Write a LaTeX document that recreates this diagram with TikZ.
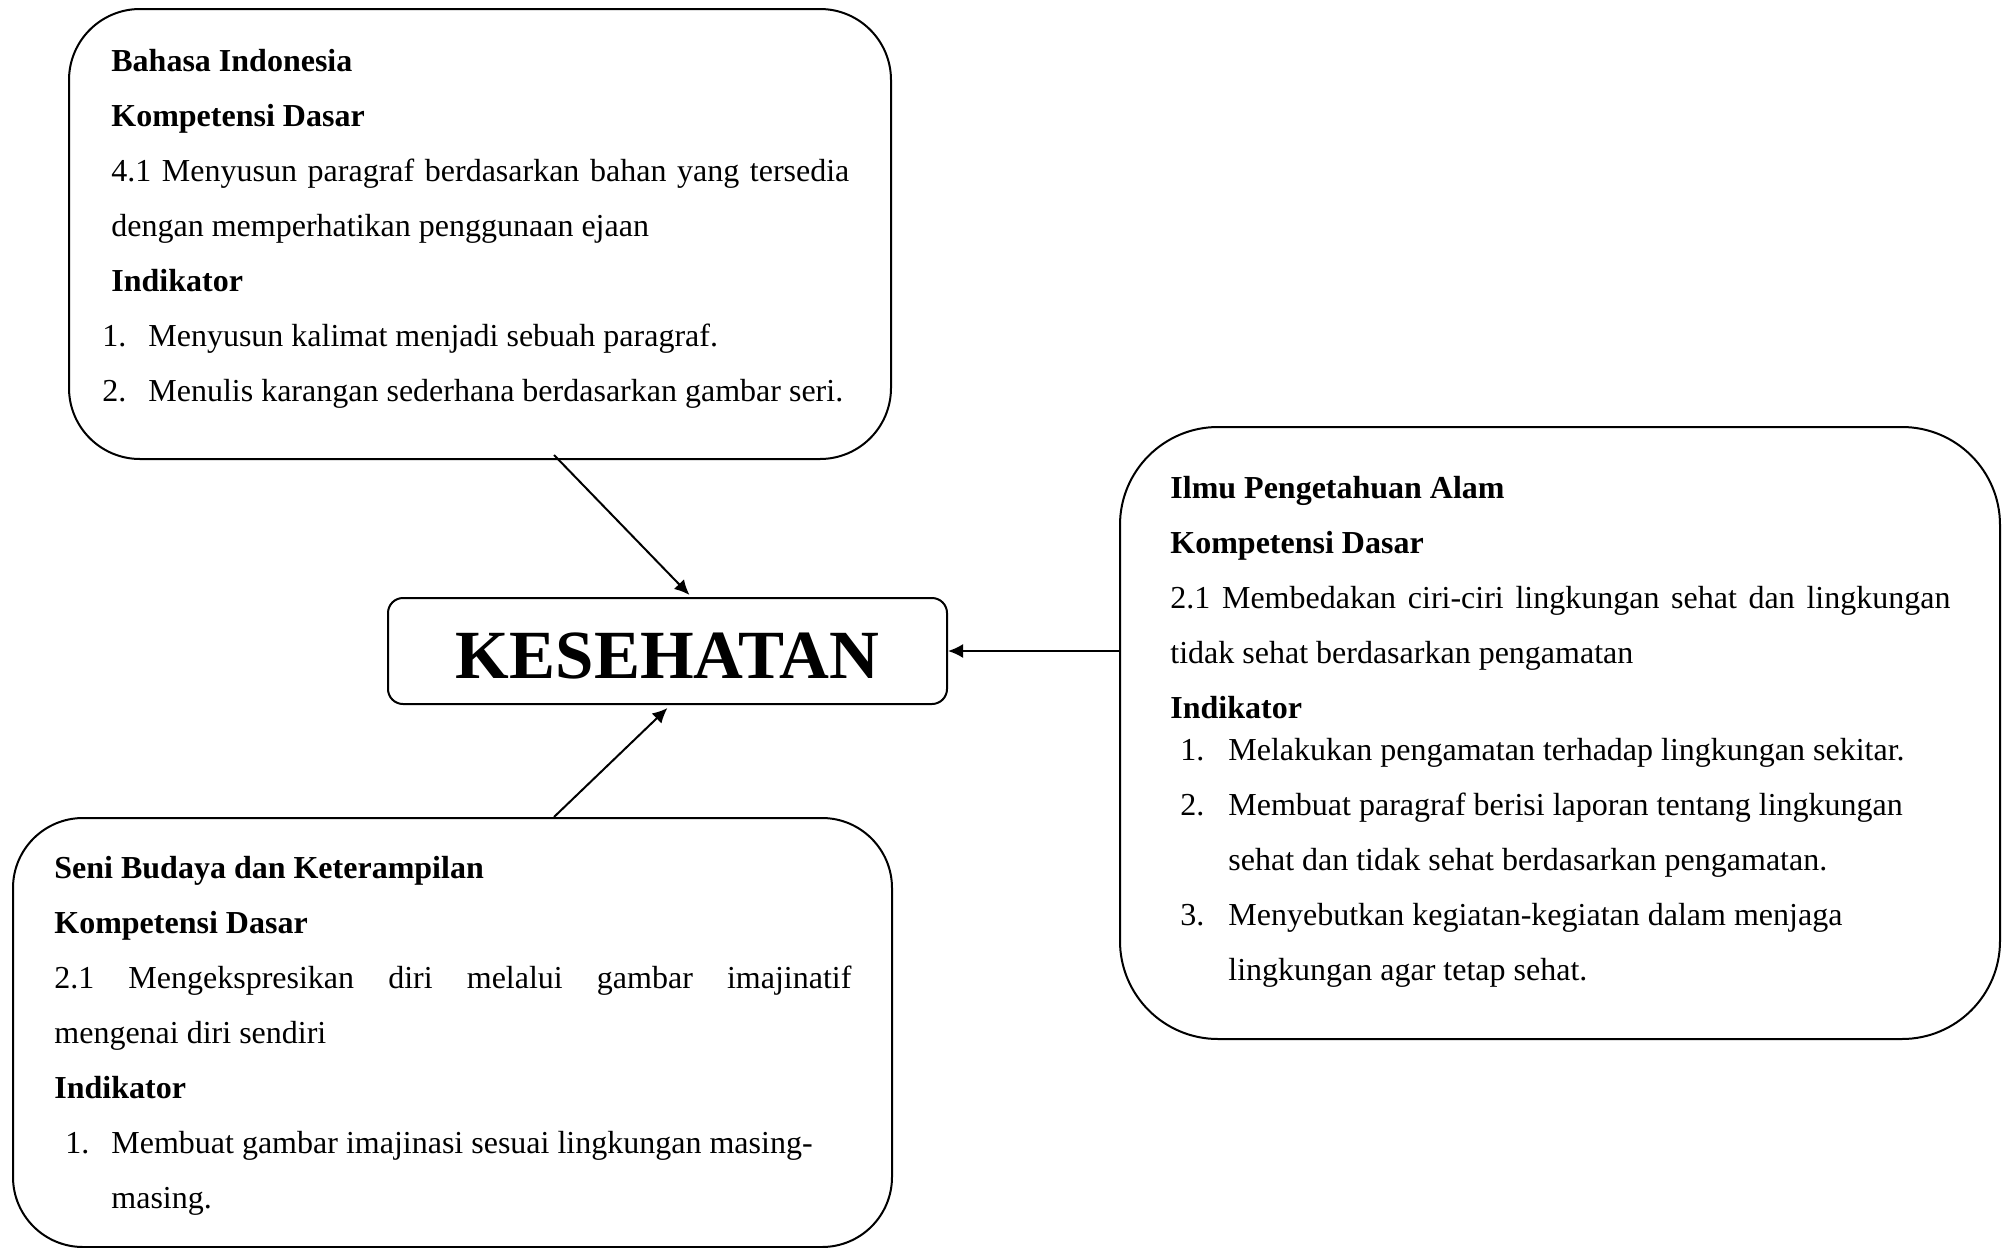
\documentclass[tikz,border=0pt]{standalone}
\usepackage{fontspec}
\setmainfont{Liberation Serif}
\usepackage{tikz}
\usetikzlibrary{arrows.meta}

\newcommand{\butir}[3]{\par\hangindent=#2\relax\rightskip=-10pt plus 1fil\relax\noindent\hspace*{#1}\makebox[\dimexpr#2-#1\relax][l]{#3}}

\begin{document}
\begin{tikzpicture}[x=0.5pt, y=-0.5pt,
  kotak/.style={draw, line width=1pt, rounded corners=35pt, inner sep=0pt},
  isi/.style={anchor=base west, align=justify, inner sep=0pt, font=\fontsize{16pt}{27.5pt}\selectfont},
  panah/.style={-{Latex[length=7.5pt, width=7pt]}, line width=1pt}]

\useasboundingbox (0,0) rectangle (2004,1248);

\node[kotak, rounded corners=35.5pt, minimum width=411pt, minimum height=225pt] (bi) at (480,234) {};
\node[kotak, rounded corners=7.5pt, minimum width=279.5pt, minimum height=53pt, text height=27pt, text depth=0pt, font=\fontsize{34.5pt}{40pt}\selectfont\bfseries] (kes) at (667.5,651) {KESEHATAN};
\node[kotak, rounded corners=49pt, minimum width=440pt, minimum height=306pt] (ipa) at (1560,733) {};
\node[kotak, rounded corners=35pt, minimum width=439.5pt, minimum height=214.5pt] (sbk) at (452.5,1032.5) {};

\node[isi, text width=369pt] (bitxt) at (111,71) {%
\textbf{Bahasa Indonesia}\par
\textbf{Kompetensi Dasar}\par
4.1 Menyusun paragraf berdasarkan bahan yang tersedia\linebreak
dengan memperhatikan penggunaan ejaan\par
\textbf{Indikator}\par
\butir{-4.5pt}{18.5pt}{1.}Menyusun kalimat menjadi sebuah paragraf.
\butir{-4.5pt}{18.5pt}{2.}Menulis karangan sederhana berdasarkan gambar seri.\par};

\node[isi, text width=390pt] (ipatxt) at (1170,498) {%
\textbf{Ilmu Pengetahuan Alam}\par
\textbf{Kompetensi Dasar}\par
2.1 Membedakan ciri-ciri lingkungan sehat dan lingkungan\linebreak
tidak sehat berdasarkan pengamatan\par
\textbf{Indikator}\par\vskip-6.5pt
\butir{5pt}{29pt}{1.}Melakukan pengamatan terhadap lingkungan sekitar.
\butir{5pt}{29pt}{2.}Membuat paragraf berisi laporan tentang lingkungan\newline
sehat dan tidak sehat berdasarkan pengamatan.
\butir{5pt}{29pt}{3.}Menyebutkan kegiatan-kegiatan dalam menjaga\newline
lingkungan agar tetap sehat.\par};

\node[isi, text width=398.5pt] (sbktxt) at (54,878) {%
\textbf{Seni Budaya dan Keterampilan}\par
\textbf{Kompetensi Dasar}\par
2.1 Mengekspresikan diri melalui gambar imajinatif\linebreak
mengenai diri sendiri\par
\textbf{Indikator}\par
\butir{5.5pt}{28.5pt}{1.}Membuat gambar imajinasi sesuai lingkungan masing-\newline
masing.\par};

\draw[panah] ([xshift=37pt, yshift=2.5pt]bi.south) -- ([xshift=11pt, yshift=1pt]kes.north);
\draw[panah] ([xshift=50.75pt]sbk.north) -- ([yshift=-1.5pt]kes.south);
\draw[panah] (ipa.west |- kes.east) -- (kes.east);

\end{tikzpicture}
\end{document}
